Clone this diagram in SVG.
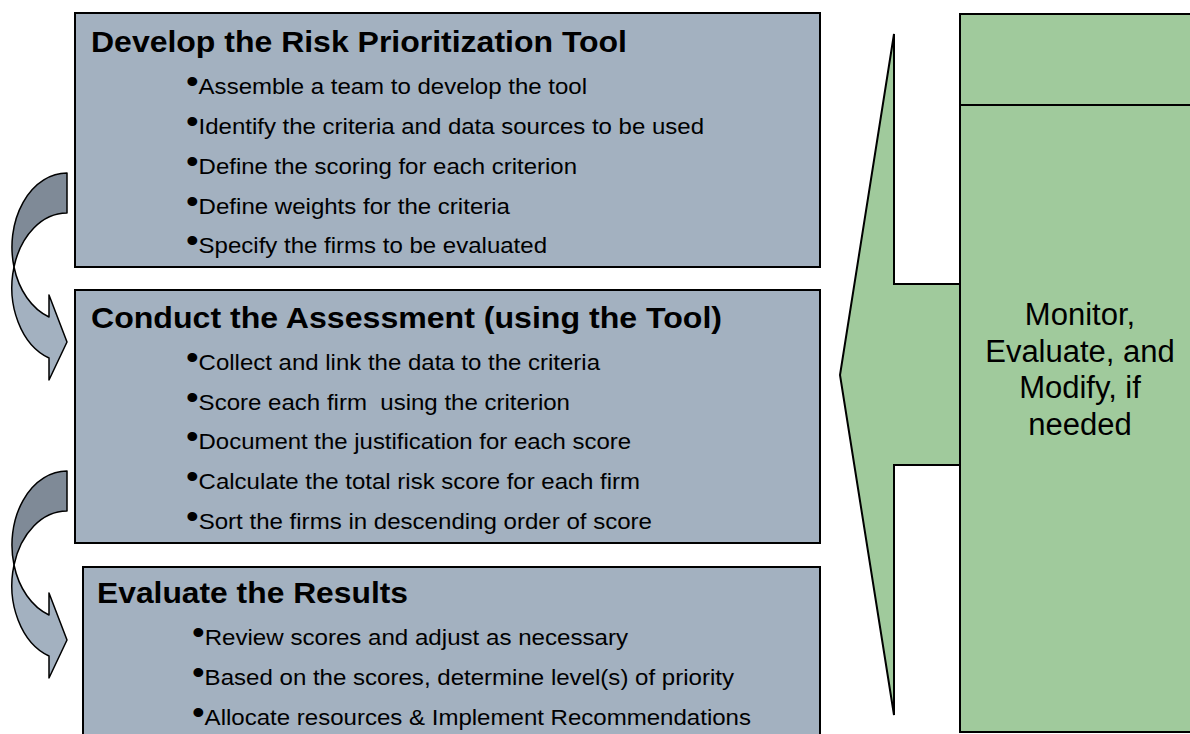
<svg xmlns="http://www.w3.org/2000/svg" width="1190" height="734" viewBox="0 0 1190 734">
<style>
.box{fill:#A3B1C0;stroke:#000;stroke-width:2}
.green{fill:#A0CA9C;stroke:#000;stroke-width:2}
.dark{fill:#7F8A97;stroke:#000;stroke-width:1.5;stroke-linejoin:round}
.light{fill:#A3B1C0;stroke:#000;stroke-width:1.5;stroke-linejoin:round}
.title{font-family:"Liberation Sans",Arial,sans-serif;font-weight:bold;font-size:30px;fill:#000}
.item{font-family:"Liberation Sans",Arial,sans-serif;font-size:22px;fill:#000}
.bs{font-size:33px}
.side{font-family:"Liberation Sans",Arial,sans-serif;font-size:31px;fill:#000;text-anchor:middle}
</style>
<defs>
<g id="curved">
<path class="light" d="M14,267 A55,74.5 0 0 0 49,358 L49,380 L67,342 L49,295 L49,317 A55,74 0 0 1 14,267 Z"/>
<path class="dark" d="M67,173 A55,74 0 0 0 14,267 A55,74.5 0 0 1 67,213 Z"/>
</g>
</defs>

<g id="monitor">
<polygon class="green" points="894,34 894,284 960,284 960,465 894,465 894,715 840,375"/>
<rect class="green" x="960" y="14" width="240" height="91"/>
<rect class="green" x="960" y="105" width="240" height="627"/>
<text class="side" x="1080" y="325">Monitor,</text>
<text class="side" x="1080" y="362">Evaluate, and</text>
<text class="side" x="1080" y="398">Modify, if</text>
<text class="side" x="1080" y="435">needed</text>
</g>

<g id="develop">
<rect class="box" x="75" y="13" width="745" height="254"/>
<text class="title" x="91" y="52" textLength="536" lengthAdjust="spacingAndGlyphs">Develop the Risk Prioritization Tool</text>
<text class="item" x="186" y="94" textLength="401" lengthAdjust="spacingAndGlyphs"><tspan class="bs" dy="-1">•</tspan><tspan dy="1">Assemble a team to develop the tool</tspan></text>
<text class="item" x="186" y="134" textLength="518" lengthAdjust="spacingAndGlyphs"><tspan class="bs" dy="-1">•</tspan><tspan dy="1">Identify the criteria and data sources to be used</tspan></text>
<text class="item" x="186" y="174" textLength="391" lengthAdjust="spacingAndGlyphs"><tspan class="bs" dy="-1">•</tspan><tspan dy="1">Define the scoring for each criterion</tspan></text>
<text class="item" x="186" y="214" textLength="324" lengthAdjust="spacingAndGlyphs"><tspan class="bs" dy="-1">•</tspan><tspan dy="1">Define weights for the criteria</tspan></text>
<text class="item" x="186" y="253" textLength="361" lengthAdjust="spacingAndGlyphs"><tspan class="bs" dy="-1">•</tspan><tspan dy="1">Specify the firms to be evaluated</tspan></text>
</g>

<g id="conduct">
<rect class="box" x="75" y="290" width="745" height="253"/>
<text class="title" x="91" y="328" textLength="631" lengthAdjust="spacingAndGlyphs">Conduct the Assessment (using the Tool)</text>
<text class="item" x="186" y="370" textLength="414" lengthAdjust="spacingAndGlyphs"><tspan class="bs" dy="-1">•</tspan><tspan dy="1">Collect and link the data to the criteria</tspan></text>
<text class="item" x="186" y="410" textLength="384" lengthAdjust="spacingAndGlyphs" xml:space="preserve"><tspan class="bs" dy="-1">•</tspan><tspan dy="1">Score each firm  using the criterion</tspan></text>
<text class="item" x="186" y="449" textLength="445" lengthAdjust="spacingAndGlyphs"><tspan class="bs" dy="-1">•</tspan><tspan dy="1">Document the justification for each score</tspan></text>
<text class="item" x="186" y="489" textLength="454" lengthAdjust="spacingAndGlyphs"><tspan class="bs" dy="-1">•</tspan><tspan dy="1">Calculate the total risk score for each firm</tspan></text>
<text class="item" x="186" y="529" textLength="466" lengthAdjust="spacingAndGlyphs"><tspan class="bs" dy="-1">•</tspan><tspan dy="1">Sort the firms in descending order of score</tspan></text>
</g>

<g id="evaluate">
<rect class="box" x="83" y="567" width="737" height="200"/>
<text class="title" x="97" y="603" textLength="311" lengthAdjust="spacingAndGlyphs">Evaluate the Results</text>
<text class="item" x="192" y="645" textLength="436" lengthAdjust="spacingAndGlyphs"><tspan class="bs" dy="-1">•</tspan><tspan dy="1">Review scores and adjust as necessary</tspan></text>
<text class="item" x="192" y="685" textLength="542" lengthAdjust="spacingAndGlyphs"><tspan class="bs" dy="-1">•</tspan><tspan dy="1">Based on the scores, determine level(s) of priority</tspan></text>
<text class="item" x="192" y="725" textLength="559" lengthAdjust="spacingAndGlyphs"><tspan class="bs" dy="-1">•</tspan><tspan dy="1">Allocate resources &amp; Implement Recommendations</tspan></text>
</g>

<g id="connectors">
<use href="#curved"/>
<use href="#curved" transform="translate(0,298)"/>
</g>
</svg>
